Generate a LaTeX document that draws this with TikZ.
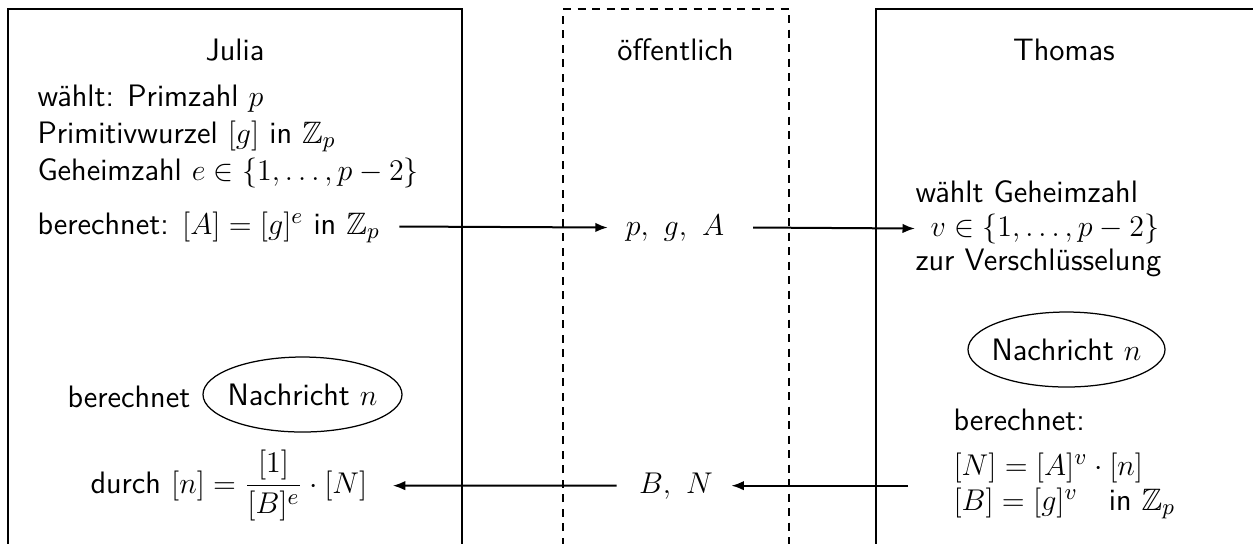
\documentclass[tikz,border=0pt]{standalone}
\usepackage{amsmath,amssymb}
\usetikzlibrary{shapes.geometric,arrows.meta}
\begin{document}
\begin{tikzpicture}[x=0.4pt,y=-0.4pt,
  every node/.style={font=\fontsize{12.4}{15}\selectfont\sffamily},
  txt/.style={inner sep=0pt,anchor=base west},
  ttl/.style={inner sep=0pt,anchor=base},
  frame/.style={draw=black,line width=0.5pt},
  dframe/.style={draw=black,line width=0.5pt,dash pattern=on 3.2pt off 2.6pt},
  msg/.style={inner sep=0pt,anchor=center},
  msgrim/.style={draw=black,line width=0.5pt},
  arr/.style={line width=0.8pt,-{Latex[length=5pt,width=3.8pt]}}]
\useasboundingbox (0,0) rectangle (1253,543);
\begin{scope}
\clip (0,0) rectangle (1253,543);
\draw[frame] (8,560) -- (8,9) -- (462,9) -- (462,560);
\draw[dframe] (563,560) -- (563,9) -- (789,9) -- (789,560);
\draw[frame] (876,560) -- (876,9) -- (1256,9) -- (1256,560);
\end{scope}
% titles
\node[ttl] (julia) at (235,60) {Julia};
\node[ttl] (oeff) at (675.5,60) {öffentlich};
\node[ttl] (thomas) at (1064,60) {Thomas};
% Julia top
\node[txt] (j1) at (37,106) {wählt: Primzahl $p$};
\node[txt] (j2) at (37,143) {Primitivwurzel $[g]$ in $\mathbb{Z}_p$};
\node[txt] (j3) at (37,180) {Geheimzahl $e\in\{1,\ldots,p-2\}$};
\node[txt] (j4) at (37,234) {berechnet: $[A]=[g]^e$ in $\mathbb{Z}_p$};
% public
\node[ttl] (pga) at (675,235) {$p,\ g,\ A$};
\node[ttl] (bn) at (676,493) {$B,\ N$};
% Thomas top
\node[txt] (t1) at (915,202) {wählt Geheimzahl};
\node[txt] (t2) at (930,236) {$v\in\{1,\ldots,p-2\}$};
\node[txt] (t3) at (915,270) {zur Verschlüsselung};
% Thomas bottom
\node[msg] (ellR) at (1066.5,349.5) {Nachricht $n$};
\draw[msgrim] (ellR.center) ellipse [x radius=39.4pt, y radius=15pt];
\node[txt] (t4) at (953,430) {berechnet:};
\node[txt] (t5) at (953,475) {$[N]=[A]^v\cdot[n]$};
\node[txt] (t6) at (953,510) {$[B]=[g]^v$\quad in $\mathbb{Z}_p$};
% Julia bottom
\node[txt] (j5) at (67,407) {berechnet};
\node[msg] (ellL) at (302.5,394.5) {Nachricht $n$};
\draw[msgrim] (ellL.center) ellipse [x radius=39.8pt, y radius=15pt];
\node[txt] (j6) at (90,493) {durch $[n]=\dfrac{[1]}{[B]^e}\cdot[N]$};
% arrows
\draw[arr] ([xshift=7.6pt,yshift=3pt]j4.base east) -- ([xshift=-7pt,yshift=3pt]pga.base west);
\draw[arr] ([xshift=11.4pt,yshift=3pt]pga.base east) -- ([xshift=-6pt]t2.west);
\draw[arr] ([xshift=-18pt]t6.west |- bn.east) -- ([xshift=7.2pt]bn.east);
\draw[arr] ([xshift=-8.8pt]bn.west) -- ([xshift=10pt]j6.east);
\end{tikzpicture}
\end{document}
